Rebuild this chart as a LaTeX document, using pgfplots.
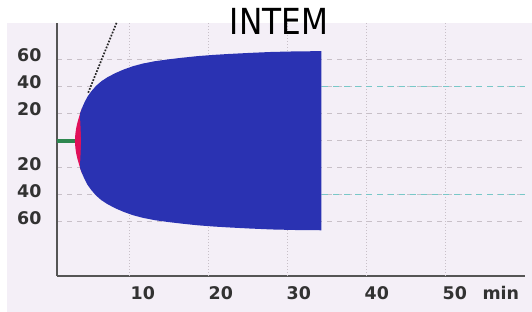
\documentclass[border=0pt]{standalone}
\usepackage{fontspec}
\setmainfont{DejaVu Sans}
\usepackage{graphicx}
\usepackage{pgfplots}
\pgfplotsset{compat=1.18}
\definecolor{bgc}{RGB}{244,239,247}
\definecolor{myblue}{RGB}{42,50,178}
\definecolor{myred}{RGB}{224,16,90}
\definecolor{mygreen}{RGB}{46,135,80}
\definecolor{axgray}{RGB}{85,85,85}
\definecolor{lblgray}{RGB}{50,50,50}
\definecolor{gridc}{RGB}{200,192,200}
\definecolor{tealc}{RGB}{120,200,200}
\begin{document}
\begin{tikzpicture}
\path[use as bounding box] (0,0) rectangle (532bp,312bp);
\fill[white] (0,0) rectangle (532bp,312bp);
\fill[bgc] (7bp,0) rectangle (532bp,289bp);
\begin{axis}[
  at={(57bp,36bp)}, anchor=south west,
  scale only axis, width=468bp, height=253bp,
  xmin=-1, xmax=59, ymin=-100, ymax=87,
  axis lines=left,
  axis line style={-, draw=axgray, line width=1.5bp},
  major tick length=0pt,
  /pgf/number format/assume math mode=true,
  tick label style={font=\fontsize{17.5}{17.5}\selectfont\bfseries, text=lblgray},
  xtick={10,20,30,40,50,55.9},
  xticklabels={10,20,30,40,50,min},
  xticklabel style={yshift=-7bp},
  ytick={-60,-40,-20,20,40,60},
  yticklabels={60,40,20,20,40,60},
  yticklabel style={xshift=-12bp,yshift=4bp},
  ymajorgrids=true,
  y grid style={color=gridc, line width=0.8bp, dash pattern=on 5bp off 5bp},
  extra y ticks={0}, extra y tick labels={},
  extra y tick style={grid=major},
  extra x ticks={8.3,18.4,28.5,38.6,48.8}, extra x tick labels={},
  extra x tick style={grid=major, major grid style={color=gridc, line width=0.6bp, dash pattern=on 1bp off 2bp}},
  clip=true,
]
% reference lines
\addplot[color=tealc, line width=1bp, dash pattern=on 6bp off 5bp] coordinates {(33,40) (59,40)};
\addplot[color=tealc, line width=1bp, dash pattern=on 6bp off 5bp] coordinates {(33,-40) (59,-40)};
% green baseline (CT)
\addplot[color=mygreen, line width=4bp] coordinates {(-1,0) (1.35,0)};
% red (CFT phase)
\addplot[fill=myred, draw=none] coordinates {
(1.30,0) (1.35,5) (1.45,9) (1.60,13) (1.75,16) (1.95,20) (2.20,24)
(2.20,-24) (1.95,-20) (1.75,-16) (1.60,-13) (1.45,-9) (1.35,-5)} -- cycle;
% blue clot
\addplot[fill=myblue, draw=none] coordinates {
(2.10,0) (2.02,10) (1.98,15) (1.95,20) (2.20,24) (2.50,28) (2.90,32.5) (3.40,36.5) (4.00,40.5) (4.70,44) (5.50,47)
(6.50,50) (7.50,52.5) (8.70,55) (10.0,57) (11.5,58.7) (13.1,60) (15.0,61.3) (17.0,62.5) (19.0,63.4) (21.0,64.1)
(23.7,64.9) (26.5,65.6) (29.5,66) (32.9,66.2)
(32.9,-66.2) (29.5,-66) (26.5,-65.6) (23.7,-64.9) (21.0,-64.1) (19.0,-63.4) (17.0,-62.5) (15.0,-61.3) (13.1,-60)
(11.5,-58.7) (10.0,-57) (8.70,-55) (7.50,-52.5) (6.50,-50) (5.50,-47) (4.70,-44) (4.00,-40.5) (3.40,-36.5)
(2.90,-32.5) (2.50,-28) (2.20,-24) (1.95,-20) (1.98,-15) (2.02,-10)} -- cycle;
% alpha tangent
\addplot[color=black!85, line width=1.7bp, dash pattern=on 1.7bp off 1.5bp] coordinates {(3.0,35.5) (7.0,92.3)};
\end{axis}
\node[anchor=base, inner sep=0pt] at (279bp,277bp) {\scalebox{0.87}[1]{\fontsize{36}{36}\selectfont INTEM}};
\end{tikzpicture}
\end{document}
